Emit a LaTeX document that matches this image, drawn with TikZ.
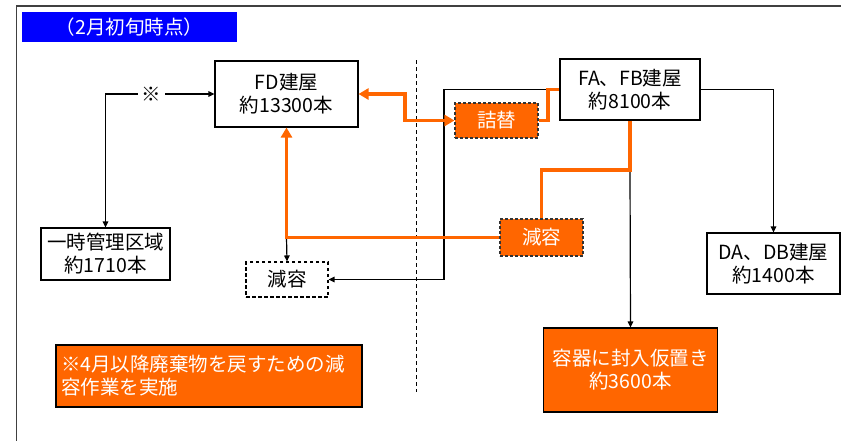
\documentclass[tikz,border=0pt]{standalone}
\usepackage{fontspec}
\setmainfont{Noto Sans CJK JP}
\usetikzlibrary{arrows.meta}
\definecolor{org}{HTML}{FF6600}
\definecolor{ttl}{HTML}{0000FF}
\definecolor{frm}{HTML}{404040}
\begin{document}
\begin{tikzpicture}[x=1pt,y=-1pt,
  box/.style={draw=black, line width=1.1pt, fill=white, align=center, inner sep=0pt,
    font=\fontsize{19.5}{23}\selectfont},
  dbox/.style={box, dashed, dash pattern=on 3.5pt off 2.5pt},
  obox/.style={box, fill=org, text=white, draw=black!80, dashed, dash pattern=on 3pt off 2pt},
  sbox/.style={box, fill=org, text=white},
  blk/.style={draw=black, line width=1.2pt},
  orl/.style={draw=org, line width=3.2pt},
  barr/.style={-{Triangle[length=6pt,width=5.5pt]}},
  oarr/.style={-{Triangle[length=10pt,width=11pt]}},
  odarr/.style={{Triangle[length=10pt,width=11pt]}-{Triangle[length=10pt,width=11pt]}}
]
\useasboundingbox (0,0) rectangle (841,440);
% frame
\draw[frm, line width=1.3pt] (16.5,441) -- (16.5,6) -- (842,6);
% title
\node[fill=ttl, text=white, minimum width=215pt, minimum height=30pt, inner sep=0pt,
  font=\fontsize{19.5}{22}\selectfont] (title) at (129.5,27) {（2月初旬時点）};
% divider
\coordinate (dv1) at (416,60);
\coordinate (dv2) at (416,392);
\draw[black, line width=1pt, dash pattern=on 4pt off 3pt] (dv1) -- (dv2);
% nodes
\node[box, minimum width=143pt, minimum height=66pt] (fd) at (286.5,94) {FD建屋\\約13300本};
\node[box, minimum width=129pt, minimum height=52pt] (tmp) at (105.5,254) {一時管理区域\\約1710本};
\node[dbox, minimum width=82pt, minimum height=35pt] (genw) at (287,279.5) {減容};
\node[obox, minimum width=83pt, minimum height=37pt] (geno) at (541.5,237.5) {減容};
\node[obox, minimum width=83pt, minimum height=35pt] (tsume) at (496.5,120.5) {詰替};
\node[box, minimum width=140pt, minimum height=61pt] (fa) at (630,89.5) {FA、FB建屋\\約8100本};
\node[box, minimum width=133pt, minimum height=61pt] (da) at (773.5,263.5) {DA、DB建屋\\約1400本};
\node[sbox, minimum width=174pt, minimum height=84pt] (yoki) at (630.5,370) {容器に封入仮置き\\約3600本};
\node[sbox, minimum width=306pt, minimum height=62pt, text width=296pt, align=left] (note) at (209,376)
  {※4月以降廃棄物を戻すための減\\容作業を実施};
% helper coordinates
\coordinate (j1) at (630,170);
\coordinate (j2) at (444,89.5);
\coordinate (j3) at (405,94);
\coordinate (j4) at (548,89.5);
% black connectors
\draw[blk, {Triangle[length=6pt,width=5.5pt]}-{Triangle[length=6pt,width=5.5pt]}]
  (tmp.north) |- node[pos=0.71, fill=white, inner sep=4pt, font=\fontsize{19.5}{22}\selectfont]{※} (fd.west);
\draw[blk, barr] (fa.west) -- (j2) |- (genw.east);
\draw[blk, barr] (fa.east) -| (da.north);
\draw[blk, barr] (j1) -- (yoki.north);
\draw[blk, barr] (fd.south |- geno.west) -- (genw.north);
% orange connectors
\draw[orl, odarr] (fd.east) -- (j3) |- (tsume.west);
\draw[orl] (tsume.east) -| (j4) -- (fa.west);
\draw[orl] (fa.south) -- (j1) -| (geno.north);
\draw[orl, oarr] (geno.west) -| (fd.south);
\end{tikzpicture}
\end{document}
